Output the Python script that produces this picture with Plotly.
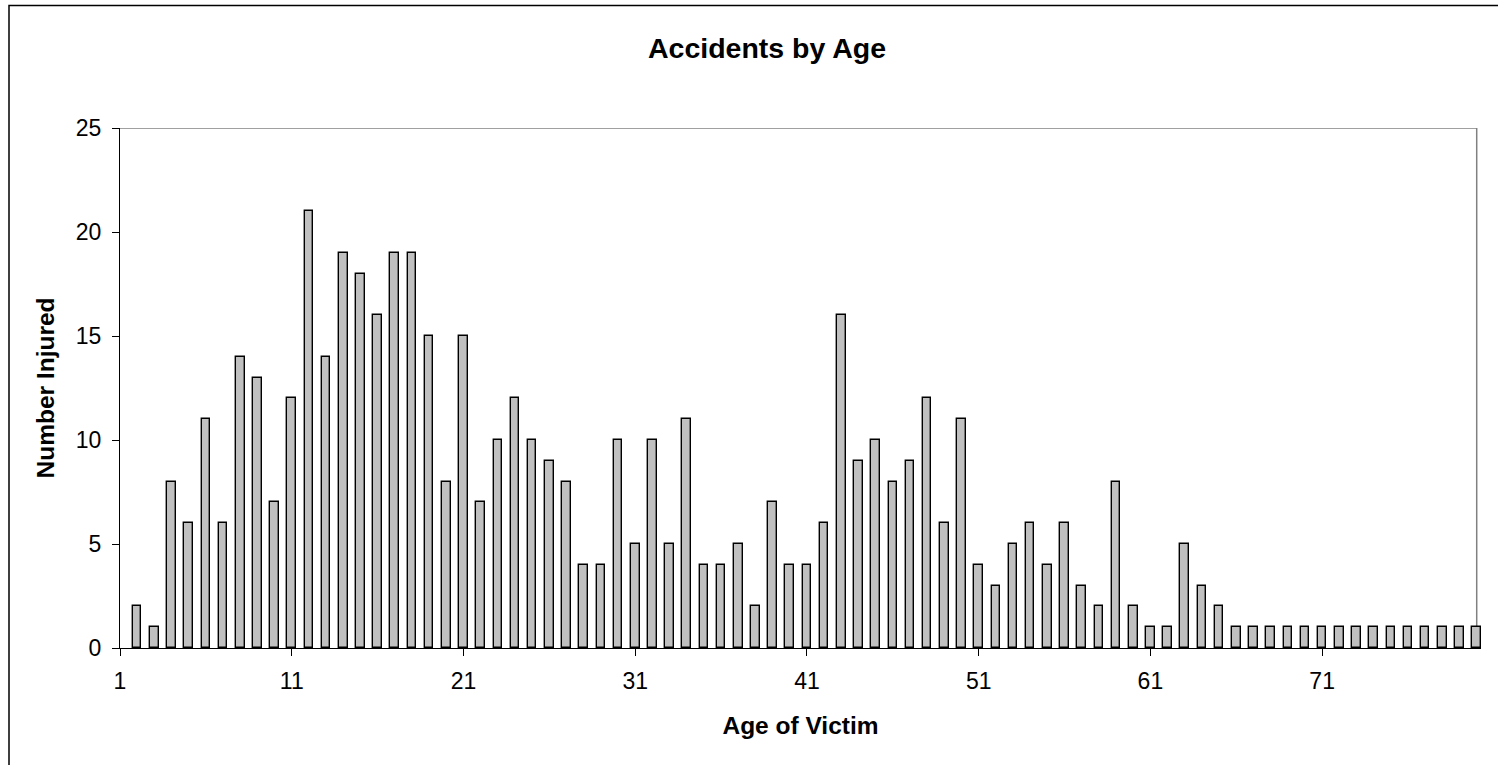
import plotly.graph_objects as go

ages = list(range(1, 80))
injured = [2, 1, 8, 6, 11, 6, 14, 13, 7, 12,
           21, 14, 19, 18, 16, 19, 19, 15, 8, 15,
           7, 10, 12, 10, 9, 8, 4, 4, 10, 5,
           10, 5, 11, 4, 4, 5, 2, 7, 4, 4,
           6, 16, 9, 10, 8, 9, 12, 6, 11, 4,
           3, 5, 6, 4, 6, 3, 2, 8, 2, 1,
           1, 5, 3, 2, 1, 1, 1, 1, 1, 1,
           1, 1, 1, 1, 1, 1, 1, 1, 1]
tick_labels = ["1", "11", "21", "31", "41", "51", "61", "71"]
y_ticks = [0, 5, 10, 15, 20, 25]

title_text = "Accidents by Age"
x_title = "Age of Victim"
y_title = "Number Injured"

FONT = "Liberation Sans, Arial, sans-serif"
W, H = 1498, 765
L, R, T, B = 120, 17, 128, 117
PW = W - L - R
PH = H - T - B

# label positions: each label sits at the left boundary of its category
tick_vals = [int(t) - 1 for t in tick_labels]

fig = go.Figure()
fig.add_trace(go.Bar(
    x=ages, y=injured, width=0.5,
    marker=dict(color="#C0C0C0", line=dict(color="black", width=1.4)),
    showlegend=False,
))

def px_x(p):
    return (p - L) / PW

def px_y(p):
    return (H - B - p) / PH

shapes = [
    # plot-area frame (top and right, gray)
    dict(type="line", xref="x", yref="y", x0=0, x1=len(ages), y0=25, y1=25,
         line=dict(color="#808080", width=1.5), layer="below"),
    dict(type="line", xref="x", yref="y", x0=len(ages), x1=len(ages), y0=0, y1=25,
         line=dict(color="#808080", width=1.5), layer="below"),
    # outer chart border (right and bottom edges fall outside the canvas)
    dict(type="rect", xref="paper", yref="paper",
         x0=px_x(9), x1=px_x(1503), y0=px_y(770), y1=px_y(5.5),
         line=dict(color="black", width=1.5), fillcolor="rgba(0,0,0,0)"),
]

fig.update_layout(
    width=W, height=H,
    margin=dict(l=L, r=R, t=T, b=B, autoexpand=False),
    paper_bgcolor="white", plot_bgcolor="white",
    font=dict(family=FONT, color="black", size=23),
    title=dict(text=title_text, x=767 / W, xanchor="center",
               y=1 - 48 / H, yanchor="middle",
               font=dict(family=FONT, size=28.5, weight="bold", color="black")),
    shapes=shapes,
    bargap=0,
)
fig.update_xaxes(
    range=[0, 79.25], tickvals=tick_vals, ticktext=tick_labels,
    showgrid=False, zeroline=False,
    showline=True, linecolor="black", linewidth=1.3,
    ticks="outside", ticklen=7, tickcolor="black", tickwidth=1,
    ticklabelstandoff=5,
    tickfont=dict(family=FONT, size=23, color="black"),
    title=dict(text=x_title, standoff=24,
               font=dict(family=FONT, size=24.5, weight="bold", color="black")),
)
fig.update_yaxes(
    range=[0, 25], tickvals=y_ticks,
    showgrid=False, zeroline=False,
    showline=True, linecolor="black", linewidth=1.3,
    ticks="outside", ticklen=7, tickcolor="black", tickwidth=1,
    ticklabelstandoff=6,
    tickfont=dict(family=FONT, size=23, color="black"),
    title=dict(text=y_title, standoff=14,
               font=dict(family=FONT, size=24.5, weight="bold", color="black")),
)

fig.write_html("out.html", config={"displayModeBar": False},
               post_script="document.body.style.margin='0';")
